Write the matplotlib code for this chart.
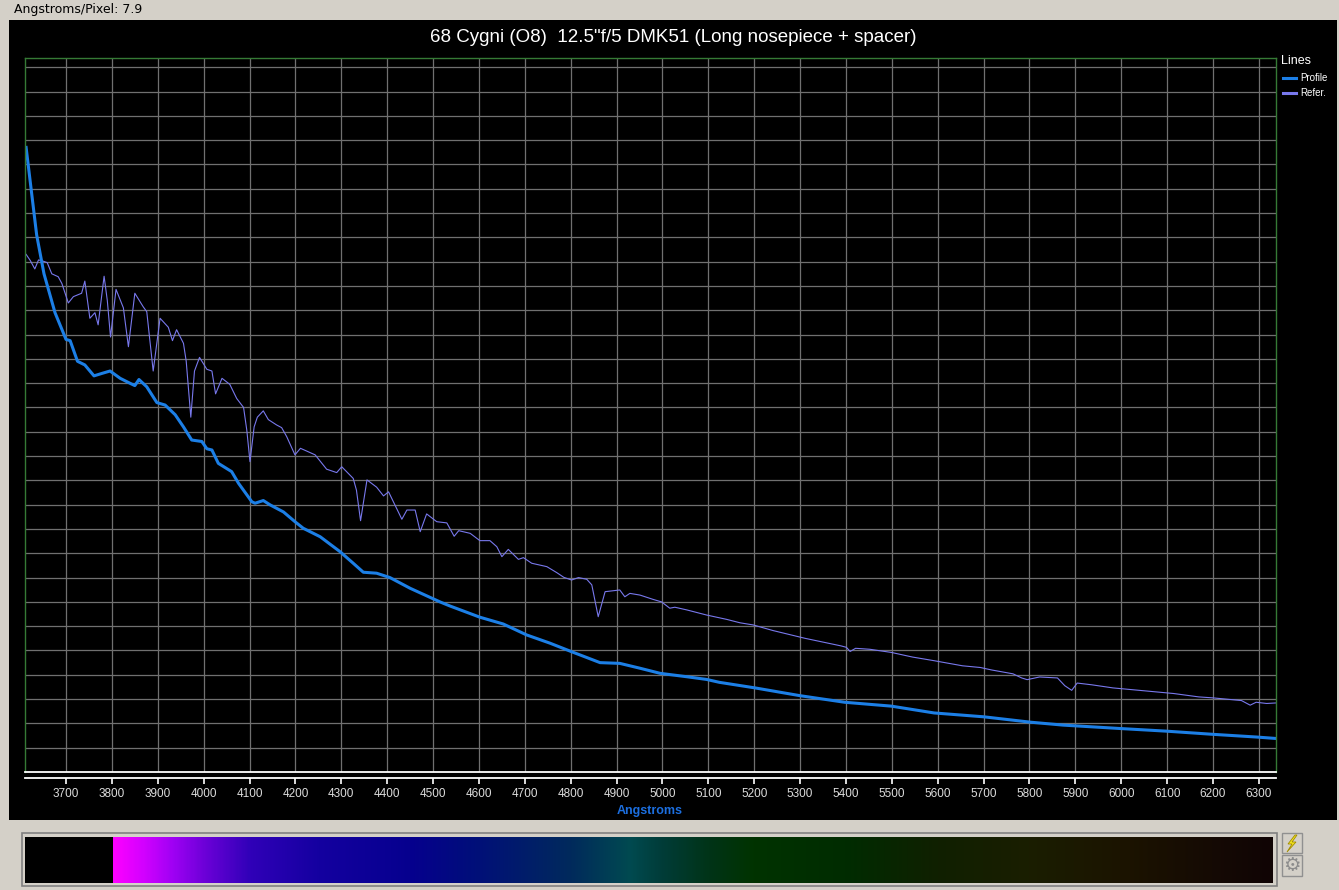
import numpy as np
import matplotlib
matplotlib.use("Agg")
import matplotlib.pyplot as plt
from matplotlib.patches import Rectangle, Polygon
from matplotlib.lines import Line2D
from matplotlib.colors import LinearSegmentedColormap

## Spectrum data (wavelength in Angstroms, intensity in grid units)
prof_wl = [3613, 3636, 3652, 3676, 3700, 3709, 3725, 3741, 3761, 3778, 3796, 3818,
           3839, 3850, 3859, 3876, 3898, 3916, 3938, 3956, 3974, 3996, 4007, 4018,
           4032, 4061, 4076, 4105, 4112, 4130, 4145, 4174, 4199, 4217, 4254, 4297,
           4326, 4348, 4377, 4406, 4450, 4515, 4537, 4602, 4653, 4704, 4755, 4802,
           4864, 4907, 4951, 4995, 5053, 5096, 5124, 5202, 5300, 5397, 5499, 5592,
           5701, 5802, 5873, 5997, 6099, 6200, 6294, 6337]
prof_val = [25.7, 22.1, 20.5, 18.9, 17.8, 17.75, 16.9, 16.75, 16.3, 16.4, 16.5, 16.2,
            16.0, 15.9, 16.15, 15.85, 15.2, 15.1, 14.7, 14.2, 13.66, 13.6, 13.3, 13.25,
            12.7, 12.36, 11.88, 11.12, 11.06, 11.17, 10.99, 10.7, 10.3, 10.03, 9.68, 9.07,
            8.59, 8.22, 8.18, 8.0, 7.56, 7.0, 6.83, 6.37, 6.09, 5.64, 5.3, 4.95,
            4.5, 4.47, 4.27, 4.06, 3.92, 3.81, 3.69, 3.46, 3.14, 2.87, 2.71, 2.43,
            2.27, 2.05, 1.93, 1.79, 1.68, 1.55, 1.44, 1.38]

ref_wl = [3613, 3622, 3632, 3640, 3647, 3659, 3669, 3683, 3691, 3705, 3716, 3734,
          3741, 3752, 3763, 3770, 3783, 3790, 3797, 3809, 3825, 3836, 3850, 3868,
          3876, 3890, 3905, 3923, 3932, 3941, 3956, 3962, 3972, 3980, 3991, 4007,
          4018, 4026, 4040, 4057, 4072, 4087, 4094, 4101, 4110, 4117, 4130, 4141,
          4159, 4170, 4181, 4199, 4211, 4243, 4268, 4290, 4301, 4326, 4333, 4342,
          4356, 4377, 4392, 4403, 4432, 4443, 4461, 4472, 4486, 4508, 4530, 4546,
          4556, 4581, 4602, 4624, 4639, 4650, 4664, 4686, 4697, 4715, 4748, 4770,
          4785, 4802, 4817, 4835, 4846, 4860, 4875, 4907, 4918, 4929, 4951, 4980,
          4998, 5016, 5027, 5053, 5096, 5140, 5169, 5198, 5241, 5311, 5389, 5401,
          5409, 5421, 5452, 5499, 5545, 5592, 5654, 5693, 5717, 5764, 5783, 5795,
          5822, 5861, 5877, 5892, 5904, 5935, 5982, 6044, 6114, 6169, 6200, 6262,
          6281, 6294, 6317, 6336]
ref_val = [21.3, 21.05, 20.7, 21.07, 21.04, 20.96, 20.5, 20.38, 20.1, 19.3, 19.56, 19.7,
           20.2, 18.67, 18.9, 18.4, 20.4, 19.4, 17.9, 19.86, 19.1, 17.5, 19.7, 19.15,
           18.94, 16.5, 18.67, 18.3, 17.75, 18.2, 17.64, 16.9, 14.6, 16.5, 17.06, 16.57,
           16.5, 15.56, 16.2, 15.95, 15.37, 15.0, 14.07, 12.77, 14.2, 14.6, 14.86, 14.5,
           14.28, 14.17, 13.8, 13.05, 13.32, 13.05, 12.46, 12.32, 12.56, 12.08, 11.6, 10.34,
           12.02, 11.72, 11.36, 11.53, 10.4, 10.78, 10.78, 9.89, 10.62, 10.3, 10.25, 9.7,
           9.93, 9.82, 9.52, 9.52, 9.27, 8.86, 9.16, 8.75, 8.82, 8.59, 8.45, 8.2,
           8.01, 7.9, 8.0, 7.93, 7.7, 6.39, 7.42, 7.49, 7.21, 7.35, 7.28, 7.1,
           7.0, 6.74, 6.78, 6.67, 6.46, 6.28, 6.14, 6.05, 5.82, 5.5, 5.19, 5.13,
           4.96, 5.09, 5.05, 4.92, 4.73, 4.58, 4.37, 4.3, 4.2, 4.04, 3.87, 3.8,
           3.91, 3.87, 3.55, 3.36, 3.66, 3.59, 3.46, 3.35, 3.23, 3.09, 3.05, 2.94,
           2.75, 2.87, 2.82, 2.84]

tick_wl = list(range(3700, 6301, 100))
title = '68 Cygni (O8)  12.5"f/5 DMK51 (Long nosepiece + spacer)'
legend_names = ['Profile', 'Refer.']

## colour strip under the plot (wavelength, colour)
strip_wl = [3610, 3799, 3800, 3870, 3930, 4000, 4100, 4250, 4450, 4600, 4800,
            4930, 5000, 5100, 5200, 5400, 5600, 5800, 6000, 6200, 6331]
strip_col = ['#000000', '#000000', '#ff00ff', '#d000ff', '#a000f4', '#6c00d8',
             '#3000b8', '#1400a0', '#06008e', '#001078', '#002a5c', '#004a50',
             '#003c38', '#003418', '#003300', '#002c00', '#102000', '#1a1e00',
             '#1c1400', '#150a04', '#100404']

W, H = 1339, 890
XMIN, XMAX = 3610.6, 6337.3

def fx(x):
    return x / W

def fy(y):
    return 1 - y / H

plt.rcParams['font.family'] = ['Liberation Sans', 'DejaVu Sans']

fig = plt.figure(figsize=(W / 100, H / 100), dpi=100, facecolor='#d4d0c8')

## black window panel
fig.add_artist(Rectangle((fx(9), fy(820)), fx(1337) - fx(9), fy(20) - fy(820),
                         transform=fig.transFigure, facecolor='black',
                         edgecolor='none', zorder=-2))

fig.text(fx(14), fy(9), 'Angstroms/Pixel: 7.9', fontsize=9, color='black',
         family='DejaVu Sans', va='center', ha='left')
fig.text(fx(673), fy(37), title, fontsize=13.5, color='white', ha='center', va='center')

## main plot
ax = fig.add_axes([fx(25), fy(772), fx(1276) - fx(25), fy(58) - fy(772)])
ax.set_facecolor('black')
ax.set_xlim(XMIN, XMAX)
ax.set_ylim(0, 29.38)
ax.set_xticks(tick_wl)
ax.set_yticks(range(1, 30))
ax.grid(True, color='#707070', lw=0.9)
ax.set_axisbelow(True)
ax.tick_params(length=0, labelbottom=False, labelleft=False)
for s in ['left', 'top', 'right']:
    ax.spines[s].set_color('#357a35')
    ax.spines[s].set_linewidth(1.0)
ax.spines['bottom'].set_color('white')
ax.spines['bottom'].set_linewidth(1.3)

ax.plot(ref_wl, ref_val, color='#7878ec', lw=0.8)
ax.plot(prof_wl, prof_val, color='#1c7fe6', lw=2.2)

## tick axis drawn a few pixels under the plot
tax = fig.add_axes([fx(25), fy(778), fx(1276) - fx(25), 0.0001])
tax.set_xlim(XMIN, XMAX)
tax.set_facecolor('none')
tax.set_yticks([])
tax.set_xticks(tick_wl)
for s in ['left', 'top', 'right']:
    tax.spines[s].set_visible(False)
tax.spines['bottom'].set_color('white')
tax.spines['bottom'].set_linewidth(1.3)
tax.tick_params(axis='x', direction='out', length=4.5, width=1.2, color='white',
                pad=3, labelsize=8.5, labelcolor='#dcdcdc')

fig.text(fx(650), fy(811), 'Angstroms', fontsize=9, fontweight='bold',
         color='#1c6fe0', ha='center', va='center')

## legend
fig.text(fx(1281), fy(61), 'Lines', fontsize=9, color='white', ha='left', va='center')
leg_col = ['#1c7fe6', '#7878ec']
for i, name in enumerate(legend_names):
    yy = 78 + i * 15
    fig.add_artist(Line2D([fx(1283), fx(1296)], [fy(yy), fy(yy)], color=leg_col[i],
                          lw=2.2, transform=fig.transFigure))
    fig.text(fx(1300), fy(yy), name, fontsize=7, color='white', ha='left', va='center')

## colour strip: frame first, gradient axes on top of it
fig.add_artist(Rectangle((fx(22), fy(886)), fx(1277) - fx(22), fy(833) - fy(886),
                         transform=fig.transFigure, facecolor='#d4d0c8',
                         edgecolor='#808080', lw=1.2, zorder=-1))
cax = fig.add_axes([fx(25), fy(883), fx(1273) - fx(25), fy(837) - fy(883)])
span = strip_wl[-1] - strip_wl[0]
cmap = LinearSegmentedColormap.from_list(
    'strip', [((w - strip_wl[0]) / span, c) for w, c in zip(strip_wl, strip_col)], N=1024)
cax.imshow(np.linspace(0, 1, 1248)[None, :], aspect='auto', cmap=cmap,
           extent=[strip_wl[0], strip_wl[-1], 0, 1])
cax.axis('off')

## the two little buttons
for y0, y1 in [(833, 853), (855, 876)]:
    fig.add_artist(Rectangle((fx(1282), fy(y1)), fx(1302) - fx(1282), fy(y0) - fy(y1),
                             transform=fig.transFigure, facecolor='#d4d0c8',
                             edgecolor='#909090', lw=1.0))
## lightning bolt icon
bolt = [(1295, 835), (1288, 844), (1292, 844), (1287, 852), (1296, 842), (1292, 842), (1297, 835)]
fig.add_artist(Polygon([(fx(a), fy(b)) for a, b in bolt], closed=True,
                       transform=fig.transFigure, facecolor='#f5e61e',
                       edgecolor='#a08a00', lw=0.6))
fig.text(fx(1292), fy(865.5), '\u2699', fontsize=14, color='#8c8c8c',
         family='DejaVu Sans', ha='center', va='center')

fig.savefig('out.png', dpi=100, facecolor=fig.get_facecolor())
